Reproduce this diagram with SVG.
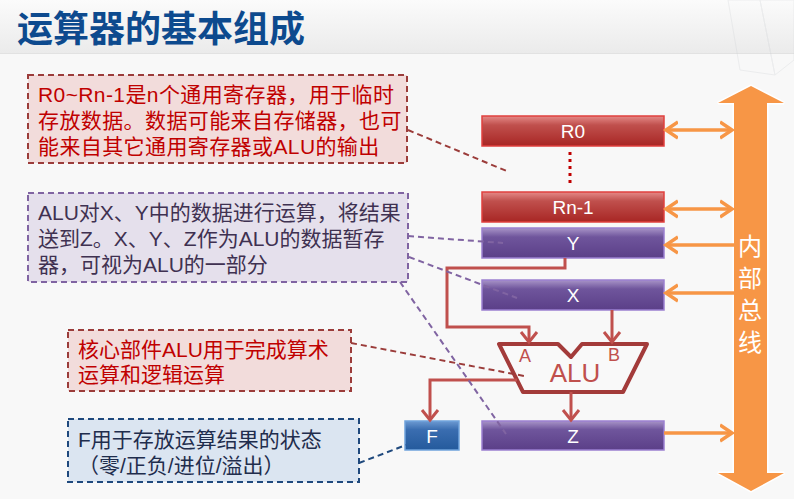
<svg xmlns="http://www.w3.org/2000/svg" width="794" height="499" viewBox="0 0 794 499">
<defs>
  <linearGradient id="hdr" x1="0" y1="0" x2="0" y2="1">
    <stop offset="0" stop-color="#fbfbfb"/>
    <stop offset="1" stop-color="#ebebeb"/>
  </linearGradient>
  <linearGradient id="gRed" x1="0" y1="0" x2="0" y2="1">
    <stop offset="0" stop-color="#e58a88"/>
    <stop offset="0.3" stop-color="#c0504d"/>
    <stop offset="1" stop-color="#a82624"/>
  </linearGradient>
  <linearGradient id="gPur" x1="0" y1="0" x2="0" y2="1">
    <stop offset="0" stop-color="#a894c8"/>
    <stop offset="0.3" stop-color="#6f559c"/>
    <stop offset="1" stop-color="#5b3f88"/>
  </linearGradient>
  <linearGradient id="gBlu" x1="0" y1="0" x2="0" y2="1">
    <stop offset="0" stop-color="#6d9ad2"/>
    <stop offset="0.3" stop-color="#3a6db0"/>
    <stop offset="1" stop-color="#245a9c"/>
  </linearGradient>
  <marker id="aRed" markerUnits="userSpaceOnUse" markerWidth="24" markerHeight="24" viewBox="-12 -12 24 24" refX="0" refY="0" orient="auto">
    <path d="M-10,-8 L0,0 L-10,8" fill="none" stroke="#c0504d" stroke-width="3" stroke-linejoin="miter"/>
  </marker>
  <marker id="aOr" markerUnits="userSpaceOnUse" markerWidth="24" markerHeight="24" viewBox="-12 -12 24 24" refX="0" refY="0" orient="auto-start-reverse">
    <path d="M-12,-8 L0,0 L-12,8" fill="none" stroke="#f79646" stroke-width="3.5"/>
  </marker>
</defs>
<style>
  .cjk { font-family: "Liberation Sans", "Noto Sans CJK SC", sans-serif; }
  .note { font-size: 21px; }
  .reg { font-family: "Liberation Sans", "Noto Sans CJK SC", sans-serif; font-size: 19px; fill: #ffffff; text-anchor: middle; }
  .box { stroke-width: 2; stroke-dasharray: 6 4; }
  .wire { fill: none; stroke: #c0504d; stroke-width: 3; }
  .bus { fill: none; stroke: #f79646; stroke-width: 3.5; }
  .call { fill: none; stroke-width: 2; stroke-dasharray: 6 4; }
</style>

<!-- background -->
<rect x="0" y="0" width="794" height="499" fill="#f8f8f8"/>
<rect x="0" y="0" width="794" height="53" fill="url(#hdr)"/>
<line x1="0" y1="53.5" x2="794" y2="53.5" stroke="#e2e2e2" stroke-width="1"/>
<g opacity="0.25" fill="none" stroke="#c8ccd0" stroke-width="1">
  <path d="M760,0 L794,0 L794,60 L775,75 Z"/>
  <path d="M728,0 L760,0 L775,75 L740,70 Z"/>
</g>
<text x="17" y="42" class="cjk" font-size="36" font-weight="bold" fill="#0d4a8e">运算器的基本组成</text>

<!-- callout notes -->
<g id="note-regs">
  <rect x="28" y="75" width="379" height="88" fill="#f2dcdb" stroke="#9b3c3a" class="box"/>
  <text class="cjk note" fill="#c00000" letter-spacing="0.4"><tspan x="38" y="102">R0~Rn-1是n个通用寄存器，用于临时</tspan><tspan x="38" y="128">存放数据。数据可能来自存储器，也可</tspan><tspan x="38" y="154">能来自其它通用寄存器或ALU的输出</tspan></text>
</g>
<g id="note-xyz">
  <rect x="28" y="193" width="380" height="89" fill="#e5e0ec" stroke="#8064a2" class="box"/>
  <text class="cjk note" fill="#3f3151"><tspan x="38" y="220">ALU对X、Y中的数据进行运算，将结果</tspan><tspan x="38" y="246">送到Z。X、Y、Z作为ALU的数据暂存</tspan><tspan x="38" y="272">器，可视为ALU的一部分</tspan></text>
</g>
<g id="note-alu">
  <rect x="68" y="330" width="283" height="61" fill="#f2dcdb" stroke="#9b3c3a" class="box"/>
  <text class="cjk note" fill="#c00000"><tspan x="78" y="357">核心部件ALU用于完成算术</tspan><tspan x="78" y="382">运算和逻辑运算</tspan></text>
</g>
<g id="note-f">
  <rect x="68" y="419" width="291" height="63" fill="#dbe5f1" stroke="#1f497d" class="box"/>
  <text class="cjk note" fill="#1f2d4d"><tspan x="78" y="447">F用于存放运算结果的状态</tspan><tspan x="78" y="473">（零/正负/进位/溢出）</tspan></text>
</g>

<!-- internal bus -->
<g id="bus">
  <polygon points="751,86 784,103 767,103 767,473 784,473 751,491 718,473 734,473 734,103 718,103" fill="#f79646" stroke="#ffffff" stroke-width="3" paint-order="stroke" stroke-linejoin="miter"/>
  <text class="cjk" font-size="24" fill="#ffffff" text-anchor="middle"><tspan x="750" y="255">内</tspan><tspan x="750" y="287">部</tspan><tspan x="750" y="319">总</tspan><tspan x="750" y="351">线</tspan></text>
</g>

<!-- registers -->
<g id="R0">
  <rect x="482" y="116" width="182" height="30" fill="url(#gRed)" stroke="#e0403e" stroke-width="1.5"/>
  <text x="573" y="138" class="reg">R0</text>
</g>
<g id="Rn-1">
  <rect x="482" y="192" width="182" height="30" fill="url(#gRed)" stroke="#e0403e" stroke-width="1.5"/>
  <text x="573" y="214" class="reg">Rn-1</text>
</g>
<g id="Y">
  <rect x="482" y="228" width="182" height="30" fill="url(#gPur)" stroke="#9a7fd0" stroke-width="1.5"/>
  <text x="573" y="250" class="reg">Y</text>
</g>
<g id="X">
  <rect x="482" y="280" width="182" height="30" fill="url(#gPur)" stroke="#9a7fd0" stroke-width="1.5"/>
  <text x="573" y="302" class="reg">X</text>
</g>
<g id="Z">
  <rect x="482" y="421" width="182" height="29" fill="url(#gPur)" stroke="#9a7fd0" stroke-width="1.5"/>
  <text x="573" y="443" class="reg">Z</text>
</g>
<g id="F">
  <rect x="405" y="421" width="54" height="29" fill="url(#gBlu)" stroke="#6fa3dc" stroke-width="1.5"/>
  <text x="432" y="443" class="reg">F</text>
</g>
<g id="ALU">
  <polygon points="499,344 558,344 571,357 582,344 647,344 623,392 523,392" fill="#f9f9f9" stroke="#a33b3a" stroke-width="4" stroke-linejoin="round"/>
  <text x="525" y="362" class="cjk" font-size="18" fill="#c0504d" text-anchor="middle">A</text>
  <text x="614" y="361" class="cjk" font-size="18" fill="#c0504d" text-anchor="middle">B</text>
  <text x="575" y="382" class="cjk" font-size="26" fill="#c0504d" text-anchor="middle">ALU</text>
</g>

<!-- connectors -->
<g id="connectors">
  <line x1="570" y1="152" x2="570" y2="186" stroke="#c00000" stroke-width="3" stroke-dasharray="3 4"/>
  <path class="wire" d="M565,258 V268 H447 V327 H529 V342" marker-end="url(#aRed)"/>
  <path class="wire" d="M612,310 V342" marker-end="url(#aRed)"/>
  <path class="wire" d="M571,392 V420" marker-end="url(#aRed)"/>
  <path class="wire" d="M517,380 H430 V420" marker-end="url(#aRed)"/>
  <line class="bus" x1="666" y1="130" x2="732" y2="130" marker-start="url(#aOr)" marker-end="url(#aOr)"/>
  <line class="bus" x1="666" y1="209" x2="732" y2="209" marker-start="url(#aOr)" marker-end="url(#aOr)"/>
  <line class="bus" x1="734" y1="245" x2="666" y2="245" marker-end="url(#aOr)"/>
  <line class="bus" x1="734" y1="293" x2="666" y2="293" marker-end="url(#aOr)"/>
  <line class="bus" x1="664" y1="433" x2="732" y2="433" marker-end="url(#aOr)"/>
  <line class="call" x1="408" y1="130" x2="509" y2="172" stroke="#9b3c3a"/>
  <line class="call" x1="408" y1="236" x2="503" y2="243" stroke="#8064a2"/>
  <line class="call" x1="409" y1="257" x2="517" y2="298" stroke="#8064a2"/>
  <line class="call" x1="400" y1="282" x2="506" y2="434" stroke="#8064a2"/>
  <line class="call" x1="351" y1="343" x2="524" y2="376" stroke="#9b3c3a"/>
  <line class="call" x1="359" y1="463" x2="406" y2="445" stroke="#1f497d"/>
</g>
</svg>
